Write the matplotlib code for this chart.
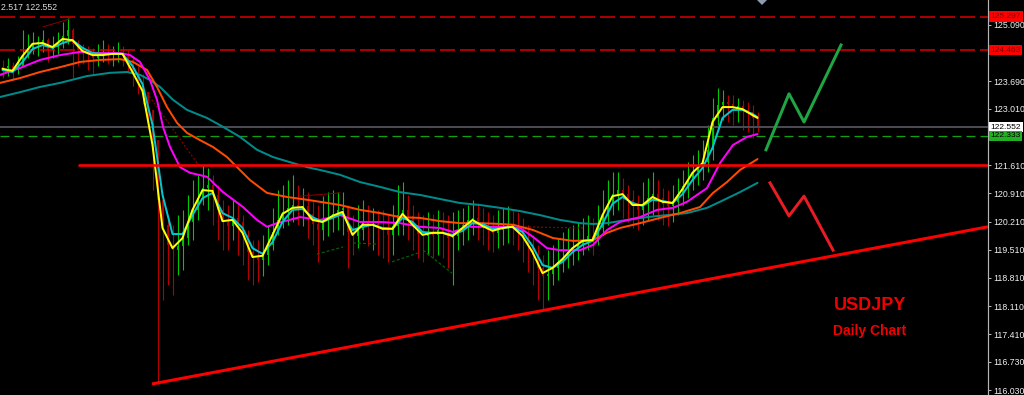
import numpy as np
import matplotlib
matplotlib.use("Agg")
import matplotlib.pyplot as plt
from matplotlib import transforms as mtransforms
from matplotlib.patches import Polygon

plt.rcParams['font.family'] = ['Liberation Sans', 'DejaVu Sans']
plt.rcParams['lines.scale_dashes'] = False

# ---------------- data ----------------
first_open = 124.05
closes = [124.02, 124.07, 123.97, 124.07, 124.32, 124.52, 124.61, 124.66, 124.71, 124.47,
          124.54, 124.61, 124.81, 124.96, 124.61, 124.47, 124.42, 124.37, 124.27, 124.34,
          124.39, 124.34, 124.37, 124.39, 124.32, 124.22, 123.92, 123.67, 123.42, 122.98,
          122.23, 120.75, 120.13, 119.63, 119.50, 119.60, 119.80, 120.20, 120.50, 120.80,
          121.04, 121.12, 120.87, 120.50, 120.20, 120.10, 120.30, 120.20, 119.88, 119.45,
          119.31, 119.26, 119.38, 119.63, 119.95, 120.25, 120.45, 120.55, 120.62, 120.55,
          120.60, 120.40, 120.15, 120.00, 120.25, 120.30, 120.40, 120.50, 120.55, 119.95,
          119.85, 120.00, 120.20, 120.10, 120.15, 120.05, 120.00, 119.88, 120.10, 120.37,
          120.50, 120.35, 120.13, 119.90, 119.85, 119.95, 119.88, 120.00, 119.90, 119.80,
          119.85, 120.00, 120.13, 120.25, 120.30, 120.20, 120.05, 120.00, 119.93, 120.00,
          120.08, 120.13, 120.05, 120.00, 119.80, 119.63, 119.38, 119.06, 118.86, 118.91,
          119.06, 119.21, 119.31, 119.45, 119.55, 119.65, 119.75, 119.85, 119.75, 120.05,
          120.35, 120.65, 120.89, 120.99, 120.89, 120.75, 120.60, 120.50, 120.65, 120.80,
          120.89, 120.80, 120.65, 120.60, 120.70, 120.87, 121.09, 121.24, 121.44, 121.54,
          121.69, 121.99, 122.78, 123.10, 123.18, 123.13, 123.03, 123.08, 122.98, 122.93,
          122.78, 122.552]
highs = [124.22, 124.27, 124.17, 124.32, 124.96, 124.86, 124.91, 124.81, 124.96, 124.76,
         124.81, 124.91, 125.16, 125.26, 125.01, 124.71, 124.61, 124.56, 124.52, 124.61,
         124.71, 124.61, 124.56, 124.66, 124.56, 124.47, 124.32, 124.07, 123.87, 123.42,
         122.98, 121.99, 120.87, 120.37, 120.13, 120.37, 120.50, 120.87, 121.24, 121.37,
         121.61, 121.54, 121.37, 121.12, 120.75, 120.62, 120.75, 120.62, 120.37, 120.00,
         119.75, 119.75, 119.88, 120.13, 120.55, 120.99, 121.12, 121.24, 121.37, 121.12,
         121.04, 120.94, 120.75, 120.62, 120.84, 120.94, 120.99, 120.94, 120.94, 120.62,
         120.37, 120.62, 120.75, 120.62, 120.55, 120.50, 120.50, 120.37, 120.62, 121.12,
         121.19, 120.87, 120.62, 120.45, 120.37, 120.45, 120.40, 120.50, 120.45, 120.37,
         120.45, 120.50, 120.55, 120.62, 120.75, 120.67, 120.55, 120.45, 120.37, 120.50,
         120.55, 120.60, 120.50, 120.45, 120.30, 120.13, 119.88, 119.63, 119.38, 119.50,
         119.63, 119.80, 119.95, 120.05, 120.13, 120.20, 120.30, 120.37, 120.30, 120.62,
         120.99, 121.24, 121.44, 121.44, 121.29, 121.12, 120.99, 120.87, 121.19, 121.29,
         121.44, 121.24, 121.04, 120.99, 121.12, 121.29, 121.49, 121.69, 121.86, 121.99,
         122.23, 122.61, 123.28, 123.52, 123.47, 123.35, 123.35, 123.28, 123.23, 123.18,
         123.10, 122.93]
lows = [123.77, 123.82, 123.72, 123.87, 124.12, 124.27, 124.37, 124.32, 124.42, 124.17,
        124.27, 124.37, 124.52, 124.61, 123.77, 124.07, 124.12, 123.97, 123.87, 124.07,
        124.17, 124.12, 124.07, 124.17, 124.07, 123.92, 123.57, 123.38, 123.13, 122.53,
        120.99, 116.18, 118.26, 118.64, 118.39, 118.88, 119.01, 119.63, 119.75, 120.25,
        120.62, 120.50, 120.13, 119.75, 119.50, 119.50, 119.75, 119.38, 119.13, 118.76,
        118.64, 118.71, 118.86, 119.13, 119.50, 119.88, 120.05, 120.13, 120.20, 120.13,
        120.10, 119.80, 119.63, 119.21, 119.75, 119.85, 119.95, 120.00, 119.88, 119.06,
        119.38, 119.55, 119.75, 119.60, 119.50, 119.38, 119.31, 119.21, 119.38, 119.88,
        119.88, 119.75, 119.50, 119.31, 119.21, 119.38, 119.31, 119.38, 119.31, 119.06,
        118.64, 119.50, 119.63, 119.75, 119.88, 119.75, 119.63, 119.50, 119.45, 119.55,
        119.63, 119.68, 119.63, 119.50, 119.21, 118.96, 118.64, 118.26, 118.02, 118.26,
        118.64, 118.76, 118.96, 119.06, 119.13, 119.26, 119.38, 119.50, 119.38, 119.63,
        119.88, 120.13, 120.37, 120.50, 120.30, 120.20, 120.05, 120.00, 120.13, 120.25,
        120.37, 120.25, 120.13, 120.10, 120.20, 120.37, 120.62, 120.79, 120.99, 121.12,
        121.24, 121.44, 121.74, 122.61, 122.73, 122.68, 122.61, 122.68, 122.48, 122.43,
        122.28, 122.43]

# fast averages sampled every second bar (plus the last bar)
fast_pos = list(range(0, 151, 2)) + [151]
ma_yellow = [124.00, 123.95, 124.32, 124.62, 124.64, 124.54, 124.74, 124.71, 124.44, 124.34,
             124.34, 124.37, 124.37, 123.92, 123.45, 122.11, 120.05, 119.55, 119.80, 120.50,
             120.99, 120.97, 120.22, 120.25, 119.93, 119.33, 119.36, 119.88, 120.40, 120.55,
             120.57, 120.25, 120.20, 120.35, 120.45, 119.88, 120.13, 120.13, 120.03, 120.03,
             120.40, 120.13, 119.88, 119.93, 119.93, 119.85, 120.05, 120.25, 120.10, 119.98,
             120.05, 120.08, 119.85, 119.45, 118.93, 119.06, 119.28, 119.55, 119.73, 119.75,
             120.37, 120.84, 120.89, 120.62, 120.62, 120.82, 120.70, 120.67, 121.02, 121.42,
             121.66, 122.68, 123.05, 123.05, 123.00, 122.85, 122.78]
ma_cyan = [123.97, 123.92, 124.17, 124.49, 124.59, 124.52, 124.64, 124.71, 124.52, 124.39,
           124.37, 124.37, 124.37, 124.07, 123.62, 122.61, 120.87, 119.90, 119.90, 120.37,
           120.79, 120.92, 120.42, 120.30, 120.05, 119.55, 119.41, 119.70, 120.20, 120.50,
           120.52, 120.32, 120.20, 120.30, 120.40, 120.00, 120.08, 120.13, 120.05, 120.03,
           120.30, 120.20, 119.95, 119.93, 119.93, 119.88, 119.98, 120.17, 120.15, 120.03,
           120.05, 120.08, 119.95, 119.60, 119.13, 119.06, 119.21, 119.45, 119.63, 119.73,
           120.15, 120.65, 120.82, 120.67, 120.60, 120.75, 120.72, 120.67, 120.89, 121.24,
           121.54, 122.04, 122.78, 122.98, 122.98, 122.88, 122.80]

mag_pos = [-0.5, 3.5, 7.5, 11.5, 15.5, 19.5, 23.5, 25.5, 27.5, 29.5,
           30.9, 32.1, 33.5, 35.5, 37.5, 40.9, 44.1, 48.1, 50.9, 52.9,
           54.9, 59.5, 63.5, 67.5, 71.5, 75.5, 79.5, 83.5, 87.5, 90.1,
           92.9, 96.9, 100.9, 103.5, 106.1, 108.9, 111.5, 115.5, 118.1, 120.9,
           123.5, 127.5, 130.9, 134.1, 136.9, 140.9, 143.5, 146.1, 148.9, 151]
ma_magenta = [123.85, 124.02, 124.22, 124.34, 124.42, 124.39, 124.39, 124.34, 124.17, 123.72,
              123.23, 122.56, 122.06, 121.56, 121.42, 121.32, 120.94, 120.57, 120.25, 120.08,
              120.17, 120.32, 120.25, 120.37, 120.20, 120.20, 120.17, 120.08, 120.05, 119.95,
              120.08, 120.08, 120.08, 120.05, 119.83, 119.55, 119.50, 119.50, 119.63, 120.00,
              120.20, 120.32, 120.50, 120.55, 120.70, 121.04, 121.66, 122.11, 122.31, 122.38]

orn_pos = [-0.5, 3.5, 7.5, 11.5, 15.5, 19.5, 23.5, 26.1, 28.9, 30.9,
           32.9, 34.9, 36.9, 39.5, 42.1, 44.9, 46.9, 49.5, 52.9, 56.9,
           60.9, 63.5, 67.5, 71.5, 75.5, 79.5, 83.5, 87.5, 91.5, 95.5,
           99.5, 102.1, 106.1, 110.1, 114.1, 118.1, 120.9, 123.5, 127.5, 131.5,
           135.5, 139.5, 142.1, 144.9, 147.5, 150.1, 151]
ma_orange = [123.65, 123.77, 123.92, 124.04, 124.17, 124.22, 124.24, 124.17, 123.97, 123.55,
             123.05, 122.66, 122.41, 122.23, 122.06, 121.81, 121.56, 121.24, 120.92, 120.82,
             120.75, 120.70, 120.62, 120.50, 120.42, 120.32, 120.30, 120.22, 120.17, 120.17,
             120.15, 120.13, 120.00, 119.80, 119.73, 119.75, 119.93, 120.05, 120.17, 120.30,
             120.42, 120.57, 120.92, 121.19, 121.49, 121.69, 121.76]

teal_pos = [-0.5, 3.5, 7.5, 11.5, 16.9, 21.5, 24.9, 27.5, 29.5, 31.5,
            34.1, 36.9, 40.9, 44.1, 47.5, 50.9, 54.1, 58.1, 60.9, 63.5,
            67.5, 71.5, 75.5, 79.5, 83.5, 87.5, 91.5, 95.5, 99.5, 103.5,
            107.5, 111.5, 115.5, 118.1, 120.9, 124.9, 128.9, 132.9, 136.9, 140.9,
            143.5, 147.5, 151]
ma_teal = [123.30, 123.42, 123.55, 123.65, 123.82, 123.90, 123.92, 123.85, 123.72, 123.55,
           123.23, 122.98, 122.78, 122.56, 122.31, 121.99, 121.81, 121.66, 121.56, 121.49,
           121.37, 121.19, 121.07, 120.94, 120.87, 120.77, 120.67, 120.62, 120.55, 120.47,
           120.37, 120.25, 120.17, 120.15, 120.17, 120.25, 120.32, 120.37, 120.42, 120.55,
           120.70, 120.94, 121.17]

# price levels
levels_red_dashed = [125.297, 124.463]
level_current = 122.552
level_green = 122.333
level_support = 121.61
support_start = 15.1

# rising trend line (bar position, price)
trend_x = [29.9, 197.1]
trend_y = [116.18, 120.08]

# projected scenarios
up_path_x = [152.7, 157.3, 160.3, 167.7]
up_path_y = [121.99, 123.38, 122.68, 124.59]
down_path_x = [153.5, 157.3, 160.3, 166.1]
down_path_y = [121.17, 120.35, 120.84, 119.50]

# faint indicator drawings
darkred_solid = [([8.1, 13.5], [125.04, 125.24]), ([59.5, 67.5], [120.84, 120.92])]
darkred_dotted = [([28.9, 39.5], [123.40, 121.56]), ([102.9, 116.1], [120.08, 120.05])]
darkgreen_dashed = [([62.9, 68.1], [119.40, 119.58]), ([70.1, 74.9], [119.68, 119.65]),
                    ([77.9, 83.1], [119.21, 119.43]), ([84.1, 89.9], [119.50, 118.93])]

tick_values = [116.03, 116.73, 117.41, 118.11, 118.81, 119.51, 120.21, 120.91,
               121.61, 123.01, 123.69, 125.09]

# ---------------- drawing ----------------
PX = 0.72  # points per pixel at 100 dpi
fig = plt.figure(figsize=(10.24, 3.95), dpi=100, facecolor='black')
ax = fig.add_axes([0, 0, 988 / 1024, 1], facecolor='black')
ax.set_xlim(-0.5, 988 / 5 - 0.5)
ax.set_ylim(115.906, 125.707)

c = np.array(closes)
h = np.array(highs)
l = np.array(lows)
o = np.concatenate([[first_open], c[:-1]])
idx = np.arange(len(c))
GREEN = '#00c800'
RED = '#b40000'
cols = np.where(c >= o, GREEN, RED)
ax.vlines(idx, l, h, colors=cols, lw=1.1 * PX, zorder=2)
ax.vlines(idx, np.minimum(o, c), np.maximum(o, c), colors=cols, lw=1.8 * PX, zorder=2)

# faint drawings
for xs, ys in darkred_solid:
    ax.plot(xs, ys, color='#8b0000', lw=1 * PX, zorder=3)
for xs, ys in darkred_dotted:
    ax.plot(xs, ys, color='#8b0000', lw=1.2 * PX, ls=(0, (2 * PX, 2 * PX)), zorder=3)
for xs, ys in darkgreen_dashed:
    ax.plot(xs, ys, color='#006400', lw=1.2 * PX, ls=(0, (3 * PX, 2 * PX)), zorder=3)

# moving averages
kw = dict(lw=2 * PX, solid_joinstyle='round', solid_capstyle='round')
ax.plot(teal_pos, ma_teal, color='#008b8b', zorder=4, **kw)
ax.plot(orn_pos, ma_orange, color='#ff4a00', zorder=4, **kw)
ax.plot(mag_pos, ma_magenta, color='#ff00ff', zorder=4, **kw)
ax.plot(fast_pos, ma_cyan, color='#00c8d2', zorder=5, **kw)
ax.plot(fast_pos, ma_yellow, color='#ffff00', zorder=5, **kw)

# horizontal levels
for lv in levels_red_dashed:
    ln = ax.axhline(lv, color='#e00000', lw=1.5 * PX, zorder=3)
    ln.set_dashes([15 * PX, 5 * PX])
ax.axhline(level_current, color='#4a4a52', lw=2 * PX, zorder=3)
lg = ax.axhline(level_green, color='#10a010', lw=1.3 * PX, zorder=3)
lg.set_dashes([9 * PX, 5 * PX])
ax.plot([support_start, 988 / 5], [level_support, level_support], color='#ff0000',
        lw=2.6 * PX, zorder=6, solid_capstyle='butt')

# trend line
ax.plot(trend_x, trend_y, color='#ff0000', lw=3 * PX, zorder=6, solid_capstyle='butt')

# scenario paths
ax.plot(up_path_x, up_path_y, color='#1fa544', lw=3 * PX, zorder=6)
ax.plot(down_path_x, down_path_y, color='#e81c24', lw=3 * PX, zorder=6)

# right axis
for s in ['top', 'bottom', 'left']:
    ax.spines[s].set_visible(False)
ax.spines['right'].set_color('#b4b4b4')
ax.spines['right'].set_linewidth(1.2 * PX)
ax.set_xticks([])
ax.yaxis.set_ticks_position('right')
ax.set_yticks(tick_values)
ax.set_yticklabels(['%.3f' % v for v in tick_values])
ax.tick_params(axis='y', direction='out', length=3 * PX, width=1 * PX, color='#b4b4b4',
               labelcolor='#f0f0f0', labelsize=6.3, pad=2)

# price boxes
trans = mtransforms.blended_transform_factory(ax.transAxes, ax.transData)
boxes = [(levels_red_dashed[0], '#ff0000', '#7a0000'),
         (levels_red_dashed[1], '#ff0000', '#7a0000'),
         (level_current, '#ffffff', '#000000'),
         (level_green, '#22b022', '#000000')]
for val, bg, fg in boxes:
    ax.text(990.5 / 988, val, '%.3f' % val, transform=trans, ha='left', va='center',
            fontsize=6.0, color=fg, zorder=10,
            bbox=dict(facecolor=bg, edgecolor='none', boxstyle='square,pad=0.2'))

# texts
fig.text(1 / 1024, 1 - 8 / 395, '2.517 122.552', color='#dcdcdc', fontsize=6.3,
         ha='left', va='center')
fig.text(870 / 1024, 1 - 306 / 395, 'USDJPY', color='#f00000', fontsize=13,
         fontweight='bold', ha='center', va='center')
fig.text(870 / 1024, 1 - 331 / 395, 'Daily Chart', color='#f00000', fontsize=10,
         fontweight='bold', ha='center', va='center')

# small marker at top
tri = Polygon([[757 / 1024, 1.0], [767 / 1024, 1.0], [762 / 1024, 1 - 5 / 395]],
              closed=True, transform=fig.transFigure, facecolor='#8c9cac', edgecolor='none')
fig.add_artist(tri)

fig.savefig('out.png', dpi=100, facecolor='black')
